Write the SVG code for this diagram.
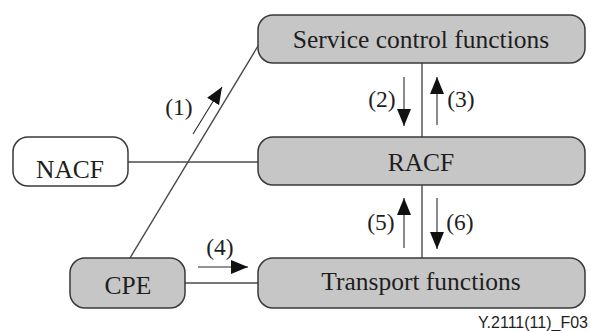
<svg xmlns="http://www.w3.org/2000/svg" width="591" height="331" viewBox="0 0 591 331">
<style>
.box{fill:#c6c6c6;stroke:#3a3a3a;stroke-width:1.5}
.wbox{fill:#ffffff;stroke:#3a3a3a;stroke-width:1.5}
.t{font-family:"Liberation Serif","Times New Roman",serif;font-size:25.5px;fill:#1e1e1e;text-anchor:middle}
.lb{font-family:"Liberation Serif","Times New Roman",serif;font-size:23.5px;fill:#1e1e1e;text-anchor:middle}
.c{stroke:#4a4a4a;stroke-width:1.4;fill:none}
.a{stroke:#2a2a2a;stroke-width:1.1;fill:none;marker-end:url(#ah)}
</style>
<defs>
<marker id="ah" markerUnits="userSpaceOnUse" markerWidth="18" markerHeight="16" viewBox="0 0 18 16" refX="17" refY="8" orient="auto">
<path d="M0,1 L17,8 L0,15 Z" fill="#111"/>
</marker>
</defs>
<g id="connectors">
<line class="c" x1="130" y1="258" x2="258" y2="46"/>
<line class="c" x1="422" y1="63" x2="422" y2="137"/>
<line class="c" x1="422" y1="185" x2="422" y2="258"/>
<line class="c" x1="128" y1="162" x2="258" y2="162"/>
<line class="c" x1="185" y1="283" x2="258" y2="283"/>
<line class="a" x1="193" y1="134" x2="222" y2="87"/>
<line class="a" x1="404" y1="77" x2="404" y2="126"/>
<line class="a" x1="437" y1="125" x2="437" y2="77"/>
<line class="a" x1="404" y1="248" x2="404" y2="198"/>
<line class="a" x1="437" y1="198" x2="437" y2="249"/>
<line class="a" x1="198" y1="267" x2="248" y2="267"/>
<text class="lb" x="179" y="115">(1)</text>
<text class="lb" x="382" y="107">(2)</text>
<text class="lb" x="461" y="107">(3)</text>
<text class="lb" x="220" y="255">(4)</text>
<text class="lb" x="381" y="230">(5)</text>
<text class="lb" x="460" y="230">(6)</text>
</g>
<g id="scf">
<rect class="box" x="258" y="15" width="327" height="48" rx="15" ry="15"/>
<text class="t" x="421" y="48">Service control functions</text>
</g>
<g id="racf">
<rect class="box" x="258" y="137" width="327" height="48" rx="15" ry="15"/>
<text class="t" x="421" y="171">RACF</text>
</g>
<g id="nacf">
<rect class="wbox" x="13" y="137" width="115" height="49" rx="15" ry="15"/>
<text class="t" x="70" y="178">NACF</text>
</g>
<g id="cpe">
<rect class="box" x="70" y="258" width="115" height="50" rx="15" ry="15"/>
<text class="t" x="128" y="294">CPE</text>
</g>
<g id="transport">
<rect class="box" x="258" y="258" width="327" height="50" rx="15" ry="15"/>
<text class="t" x="421" y="290">Transport functions</text>
</g>
<text x="588" y="328" style="font-family:'Liberation Sans',Arial,sans-serif;font-size:16px;fill:#1e1e1e;text-anchor:end">Y.2111(11)_F03</text>
</svg>
